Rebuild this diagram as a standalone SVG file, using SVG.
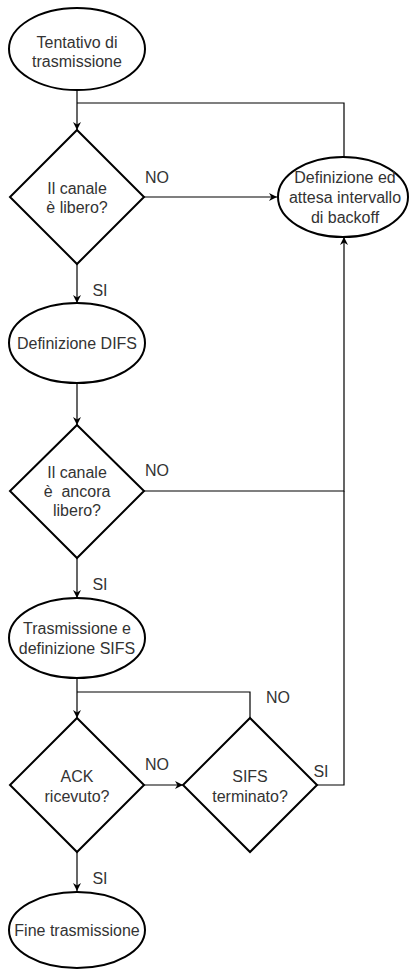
<svg xmlns="http://www.w3.org/2000/svg" width="409" height="969" viewBox="0 0 409 969">
  <style>
    .shape { fill: #ffffff; stroke: #000000; stroke-width: 2; }
    .edge { fill: none; stroke: #000000; stroke-width: 1.2; }
    .lbl { font-family: "Liberation Sans", Arial, sans-serif; font-size: 16px; fill: #333333; text-anchor: middle; }
  </style>
  <defs>
    <marker id="arrow" viewBox="0 0 10 10" refX="10" refY="5" markerWidth="8" markerHeight="8" markerUnits="userSpaceOnUse" orient="auto">
      <path d="M0,0 L10,5 L0,10 L3,5 Z" fill="#000000"/>
    </marker>
  </defs>
  <rect width="409" height="969" fill="#ffffff"/>

  <!-- connectors -->
  <g id="connectors">
    <path class="edge" d="M77,90 V130" marker-end="url(#arrow)"/>
    <path class="edge" d="M344,157 V103 H77"/>
    <path class="edge" d="M144,197 H277" marker-end="url(#arrow)"/>
    <path class="edge" d="M77,264 V303" marker-end="url(#arrow)"/>
    <path class="edge" d="M77,383 V425" marker-end="url(#arrow)"/>
    <path class="edge" d="M144,491 H344 V237" marker-end="url(#arrow)"/>
    <path class="edge" d="M77,558 V598" marker-end="url(#arrow)"/>
    <path class="edge" d="M77,678 V718" marker-end="url(#arrow)"/>
    <path class="edge" d="M250,718 V692 H77"/>
    <path class="edge" d="M144,785 H183" marker-end="url(#arrow)"/>
    <path class="edge" d="M317,785 H344 V491"/>
    <path class="edge" d="M77,852 V891" marker-end="url(#arrow)"/>

    <text class="lbl" x="157" y="183">NO</text>
    <text class="lbl" x="100" y="296">SI</text>
    <text class="lbl" x="157" y="476">NO</text>
    <text class="lbl" x="100" y="590">SI</text>
    <text class="lbl" x="278" y="703">NO</text>
    <text class="lbl" x="157" y="770">NO</text>
    <text class="lbl" x="321" y="777">SI</text>
    <text class="lbl" x="100" y="884">SI</text>
  </g>

  <g id="start">
    <ellipse class="shape" cx="77" cy="49" rx="68" ry="41"/>
    <text class="lbl" x="77" y="48">Tentativo di</text>
    <text class="lbl" x="77" y="67">trasmissione</text>
  </g>

  <g id="check-free">
    <polygon class="shape" points="77,130 144,197 77,264 10,197"/>
    <text class="lbl" x="77" y="194">Il canale</text>
    <text class="lbl" x="77" y="213">è libero?</text>
  </g>

  <g id="backoff">
    <ellipse class="shape" cx="343" cy="197" rx="65" ry="40"/>
    <text class="lbl" x="345" y="183">Definizione ed</text>
    <text class="lbl" x="345" y="203">attesa intervallo</text>
    <text class="lbl" x="345" y="223">di backoff</text>
  </g>

  <g id="difs">
    <ellipse class="shape" cx="77" cy="343" rx="68" ry="40"/>
    <text class="lbl" x="77" y="349">Definizione DIFS</text>
  </g>

  <g id="check-still-free">
    <polygon class="shape" points="77,425 144,491 77,558 10,491"/>
    <text class="lbl" x="77" y="478">Il canale</text>
    <text class="lbl" x="77" y="497" xml:space="preserve">è  ancora</text>
    <text class="lbl" x="77" y="516">libero?</text>
  </g>

  <g id="transmit">
    <ellipse class="shape" cx="77" cy="638" rx="68" ry="40"/>
    <text class="lbl" x="77" y="634">Trasmissione e</text>
    <text class="lbl" x="77" y="654">definizione SIFS</text>
  </g>

  <g id="ack">
    <polygon class="shape" points="77,718 144,785 77,852 10,785"/>
    <text class="lbl" x="77" y="782">ACK</text>
    <text class="lbl" x="77" y="802">ricevuto?</text>
  </g>

  <g id="sifs">
    <polygon class="shape" points="250,718 317,785 250,852 183,785"/>
    <text class="lbl" x="250" y="782">SIFS</text>
    <text class="lbl" x="250" y="802">terminato?</text>
  </g>

  <g id="end">
    <ellipse class="shape" cx="77" cy="930" rx="68" ry="38"/>
    <text class="lbl" x="77" y="936">Fine trasmissione</text>
  </g>
</svg>
